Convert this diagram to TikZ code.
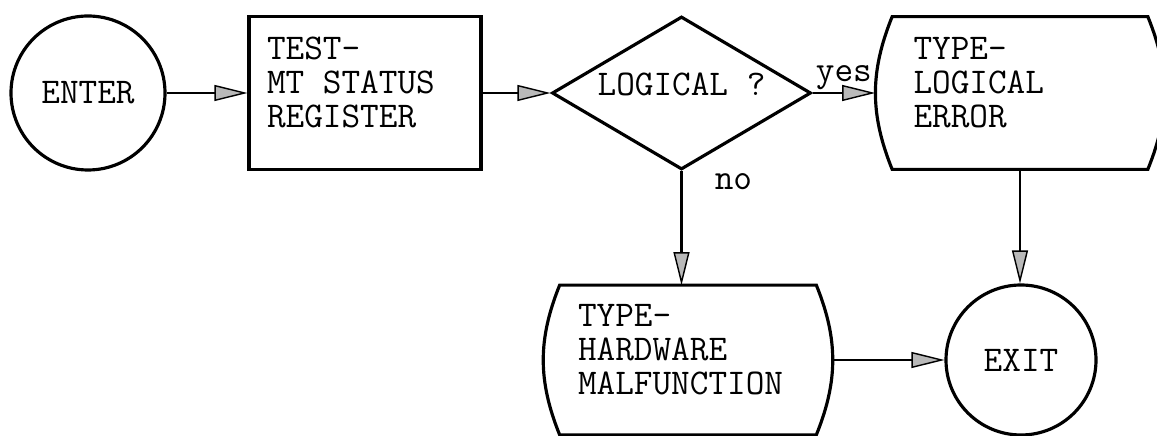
\documentclass[tikz,border=0pt]{standalone}
\usepackage{fontspec}
\usetikzlibrary{shapes.geometric,arrows.meta}

\newcommand{\tw}{\ttfamily\fontsize{20.6pt}{19.3pt}\selectfont}
\newcommand{\lines}[2]{\begin{tabular}[b]{@{}p{#1}@{}}#2\end{tabular}}

\tikzset{
  outline/.style={line width=1.8pt},
  flow/.style={line width=1.5pt,
    -{Triangle[length=0.66cm,width=0.32cm,fill=gray!55,line width=0.8pt]}},
  term/.style={circle,draw,outline,minimum size=3.08cm,inner sep=0pt,font=\tw},
  procbox/.style={rectangle,inner sep=0pt,font=\tw,text depth=12.5pt},
  decide/.style={diamond,draw,outline,aspect=1.7,inner sep=0pt,font=\tw,
    minimum width=5.18cm,minimum height=3.06cm,text depth=10pt}
}

\begin{document}
\begin{tikzpicture}
\useasboundingbox (0,0) rectangle (23.14,8.72);
\node[term] (enter) at (1.76,6.86) {ENTER};
\node[procbox,draw,outline,minimum width=4.64cm,minimum height=3.06cm] (test) at (7.30,6.86)
  {\lines{3.92cm}{TEST-\\MT STATUS\\REGISTER}};
\node[decide] (dia) at (13.63,6.86) {LOGICAL ?};
\node[procbox,minimum width=5.1cm,minimum height=3.04cm] (err) at (20.40,6.86)
  {\lines{4.26cm}{TYPE-\\LOGICAL\\ERROR}};
\node[procbox,minimum width=5.12cm,minimum height=2.98cm] (hw) at (13.76,1.52)
  {\lines{4.4cm}{TYPE-\\HARDWARE\\MALFUNCTION}};
\node[term,minimum size=3.0cm] (exit) at (20.42,1.52) {EXIT};
% bowed sides of the two type boxes
\draw[outline] (err.north west) to[bend right=22] (err.south west) -- (err.south east)
  to[bend right=22] (err.north east) -- cycle;
\draw[outline] (hw.north west) to[bend right=22] (hw.south west) -- (hw.south east)
  to[bend right=22] (hw.north east) -- cycle;
% arrows
\draw[flow] (enter.east) -- (enter.east -| test.west);
\draw[flow] (test.east) -- (dia.west);
\draw[flow] (dia.east) -- node[above,inner sep=1pt,font=\tw]{yes} ([xshift=-0.34cm]err.west);
\draw[flow] (dia.south) -- node[pos=0.09,anchor=west,xshift=0.64cm,inner sep=0pt,font=\tw]{no}
  (dia.south |- hw.north);
\draw[flow] (err.south) -- (err.south |- exit.north);
\draw[flow] ([xshift=0.34cm]hw.east) -- (exit.west);
\end{tikzpicture}
\end{document}
